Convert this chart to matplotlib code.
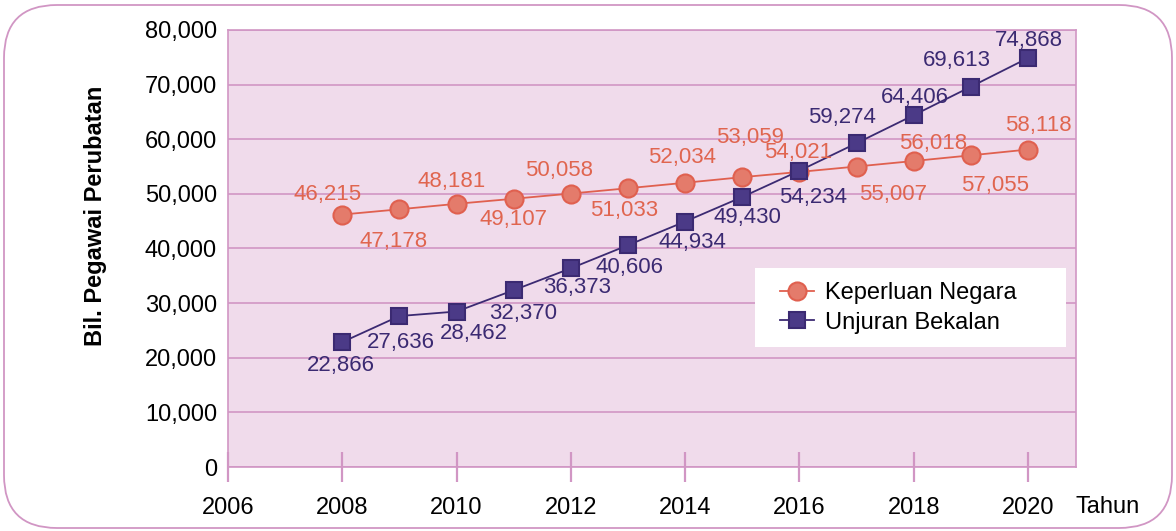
import numpy as np
import matplotlib.pyplot as plt
from matplotlib.patches import FancyBboxPatch, Rectangle

# --- data ---
years = [2008, 2009, 2010, 2011, 2012, 2013, 2014, 2015, 2016, 2017, 2018, 2019, 2020]
keperluan = [46215, 47178, 48181, 49107, 50058, 51033, 52034, 53059, 54021, 55007, 56018, 57055, 58118]
unjuran = [22866, 27636, 28462, 32370, 36373, 40606, 44934, 49430, 54234, 59274, 64406, 69613, 74868]
xticks = [2006, 2008, 2010, 2012, 2014, 2016, 2018, 2020]
yticks = [0, 10000, 20000, 30000, 40000, 50000, 60000, 70000, 80000]

# label offsets in pixels (dx, dy), picked by eye
off_k = [(-15, 20), (-6, -32), (-5, 22), (0, -21), (-12, 23), (-4, -22), (-3, 25),
         (8, 40), (-1, 19), (37, -28), (19, 18), (24, -30), (10, 24)]
off_u = [(-1, -23), (1, -26), (17, -22), (9, -23), (6, -19), (2, -22), (7, -21),
         (5, -21), (14, -27), (-15, 26), (1, 18), (-14, 26), (1, 18)]

ORANGE = '#E0604F'
ORANGE_FILL = '#E47B6B'
ORANGE_TXT = '#E0654F'
PURPLE = '#3B2A72'
PURPLE_FILL = '#4B3A87'
PINK = '#D196C4'
BG = '#F0DBEB'
FS = 17
FS_LBL = 16

plt.rcParams['font.family'] = ['Liberation Sans', 'DejaVu Sans']

fig = plt.figure(figsize=(11.76, 5.31), dpi=100)
fig.patch.set_facecolor('white')

# rounded outer frame
frame = FancyBboxPatch((4 / 1176, 3 / 531), 1168 / 1176, 523 / 531,
                       boxstyle='round,pad=0,rounding_size=0.045',
                       transform=fig.transFigure, facecolor='none',
                       edgecolor=PINK, linewidth=1.3, mutation_aspect=1176 / 531)
fig.patches.append(frame)

ax = fig.add_axes([228 / 1176, 1 - 467 / 531, 848 / 1176, 437 / 531])
ax.set_facecolor(BG)
ax.set_xlim(2006, 2006 + 848 / 57.14)
ax.set_ylim(0, 80000)

for s in ax.spines.values():
    s.set_color(PINK)
    s.set_linewidth(1.2)

ax.yaxis.grid(True, color=PINK, linewidth=1.2)
ax.set_axisbelow(True)

ax.set_yticks(yticks)
ax.set_yticklabels([f'{v:,}' for v in yticks], fontsize=FS)
ax.tick_params(axis='y', length=0, pad=8)
ax.set_xticks(xticks)
ax.set_xticklabels([str(v) for v in xticks], fontsize=FS)
ax.tick_params(axis='x', direction='inout', length=21, width=1.6, color=PINK, pad=11)

ax.plot(years, keperluan, color=ORANGE, linewidth=1.3, marker='o', markersize=13,
        markerfacecolor=ORANGE_FILL, markeredgecolor=ORANGE, markeredgewidth=1.5,
        label='Keperluan Negara', zorder=3)
ax.plot(years, unjuran, color=PURPLE, linewidth=1.3, marker='s', markersize=11,
        markerfacecolor=PURPLE_FILL, markeredgecolor=PURPLE, markeredgewidth=1.5,
        label='Unjuran Bekalan', zorder=4)

for x, y, (dx, dy) in zip(years, keperluan, off_k):
    ax.annotate(f'{y:,}', (x, y), xytext=(dx, dy), textcoords='offset pixels',
                ha='center', va='center', fontsize=FS_LBL, color=ORANGE_TXT, zorder=5)
for x, y, (dx, dy) in zip(years, unjuran, off_u):
    ax.annotate(f'{y:,}', (x, y), xytext=(dx, dy), textcoords='offset pixels',
                ha='center', va='center', fontsize=FS_LBL, color=PURPLE, zorder=5)

ax.set_ylabel('Bil. Pegawai Perubatan', fontsize=FS, fontweight='bold')
ax.yaxis.set_label_coords(-0.1427, 0.574)

fig.text(1108 / 1176, 1 - 507 / 531, 'Tahun', fontsize=FS, ha='center', va='center')

# white legend box, then a frameless legend on top
ax.add_patch(Rectangle(((755 - 228) / 848, (467 - 347) / 437), 311 / 848, 79 / 437,
                       transform=ax.transAxes, facecolor='white', edgecolor='none',
                       zorder=6))
leg = ax.legend(loc='upper left', bbox_to_anchor=((780 - 228) / 848, (467 - 282) / 437),
                fontsize=FS, frameon=False, borderpad=0, borderaxespad=0,
                handlelength=1.45, handletextpad=0.45, labelspacing=0.32)
leg.set_zorder(7)

fig.savefig('out.png', dpi=100)
